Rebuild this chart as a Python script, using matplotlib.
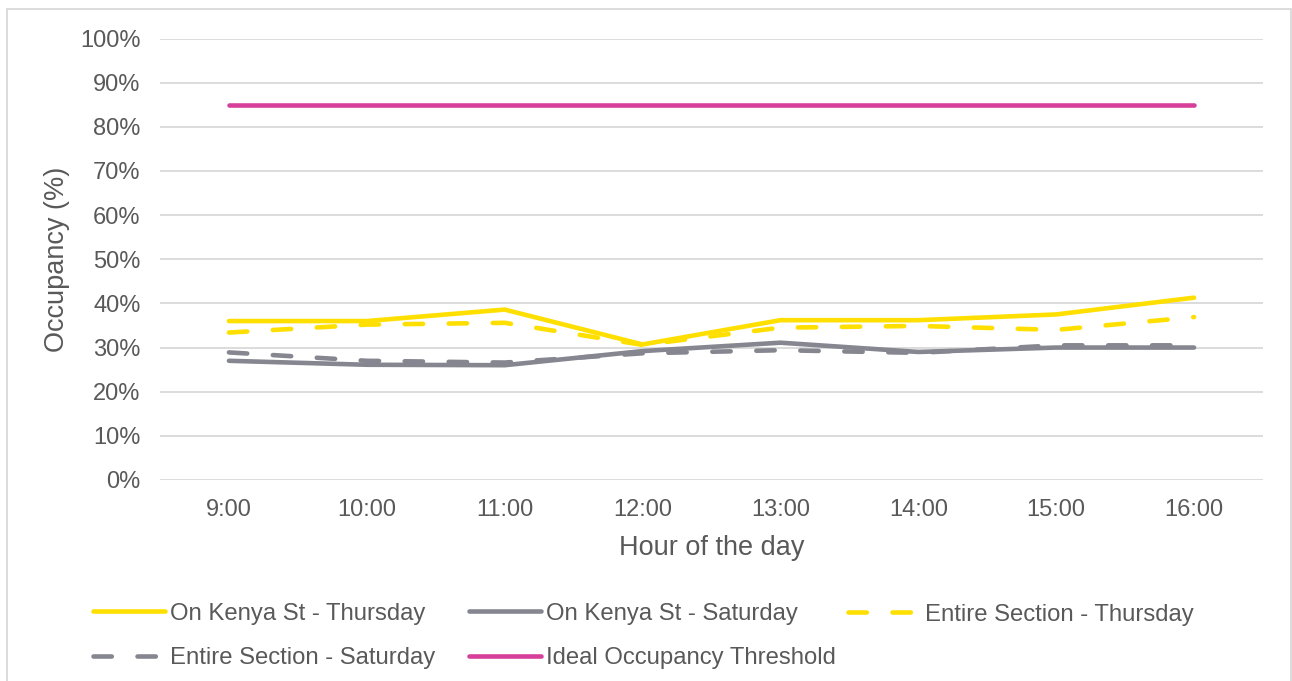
import matplotlib
matplotlib.use("Agg")
import matplotlib.pyplot as plt
from matplotlib.patches import Rectangle
from matplotlib.ticker import FuncFormatter, MultipleLocator

plt.rcParams["font.family"] = ["Liberation Sans", "DejaVu Sans"]

hours = ["9:00", "10:00", "11:00", "12:00", "13:00", "14:00", "15:00", "16:00"]
kenya_thursday = [36.0, 36.0, 38.6, 30.7, 36.2, 36.2, 37.5, 41.3]
kenya_saturday = [27.0, 26.1, 26.0, 29.2, 31.1, 29.0, 30.0, 30.0]
section_thursday = [33.4, 35.2, 35.6, 30.6, 34.5, 34.9, 34.0, 36.9]
section_saturday = [28.9, 27.0, 26.6, 28.7, 29.4, 28.8, 30.5, 30.5]
ideal_threshold = [85.0] * len(hours)

YELLOW = "#FFDF00"
GREY = "#85868F"
PINK = "#D6409A"
TEXT = "#595959"
GRID = "#D9D9D9"

W, H, DPI = 1292, 681, 100
fig = plt.figure(figsize=(W / DPI, H / DPI), dpi=DPI)
fig.patch.set_facecolor("white")

# plot area in pixel terms
left, right, top, bottom = 160, 1263, 38.5, 480
ax = fig.add_axes([left / W, 1 - bottom / H, (right - left) / W, (bottom - top) / H])

x = list(range(len(hours)))
LW = 3.3
dash = (4.0, 5.6)

series = [
    (kenya_thursday, YELLOW, None, "On Kenya St - Thursday"),
    (kenya_saturday, GREY, None, "On Kenya St - Saturday"),
    (section_thursday, YELLOW, dash, "Entire Section - Thursday"),
    (section_saturday, GREY, dash, "Entire Section - Saturday"),
    (ideal_threshold, PINK, None, "Ideal Occupancy Threshold"),
]

handles = {}
for values, color, dashes, label in series:
    kw = dict(color=color, lw=LW, solid_capstyle="round", dash_capstyle="round",
              solid_joinstyle="round", label=label, zorder=3)
    (ln,) = ax.plot(x, values, **kw)
    if dashes is not None:
        ln.set_dashes(dashes)
    handles[label] = ln

ax.set_xlim(-0.5, len(hours) - 0.5)
ax.set_ylim(0, 100)
ax.yaxis.set_major_locator(MultipleLocator(10))
ax.yaxis.set_major_formatter(FuncFormatter(lambda v, _: f"{v:.0f}%"))
ax.set_xticks(x)
ax.set_xticklabels(hours)

ax.grid(axis="y", color=GRID, lw=1.3, zorder=0)
ax.grid(axis="x", visible=False)
for s in ax.spines.values():
    s.set_visible(False)
ax.tick_params(axis="both", length=0, labelsize=17, labelcolor=TEXT)
ax.tick_params(axis="y", pad=14)
ax.tick_params(axis="x", pad=14)

ax.set_xlabel("Hour of the day", fontsize=19.5, color=TEXT, labelpad=10)
fig.text(57 / W, 1 - 259.5 / H, "Occupancy (%)", rotation=90, ha="center",
         va="center", fontsize=19.5, color=TEXT)

# legend laid out as three columns of equal width
columns = [
    (93, ["On Kenya St - Thursday", "Entire Section - Saturday"]),
    (469, ["On Kenya St - Saturday", "Ideal Occupancy Threshold"]),
    (848, ["Entire Section - Thursday"]),
]
for xpix, labels in columns:
    hs = [handles[l] for l in labels]
    ypix = 636 if len(labels) == 2 else 614.5
    leg = fig.legend(hs, labels, loc="center left",
                     bbox_to_anchor=(xpix / W, 1 - ypix / H),
                     frameon=False, fontsize=17.2, handlelength=3.0,
                     handletextpad=0.24, labelspacing=0.95, borderpad=0,
                     borderaxespad=0)
    for t in leg.get_texts():
        t.set_color(TEXT)

# outer border of the chart area
fig.add_artist(Rectangle((6.5 / W, -0.05), (1290.5 - 6.5) / W, 1.05 - 9.5 / H,
                         transform=fig.transFigure, fill=False,
                         edgecolor="#D9D9D9", lw=1.3))

fig.savefig("out.png", dpi=DPI, facecolor="white")
